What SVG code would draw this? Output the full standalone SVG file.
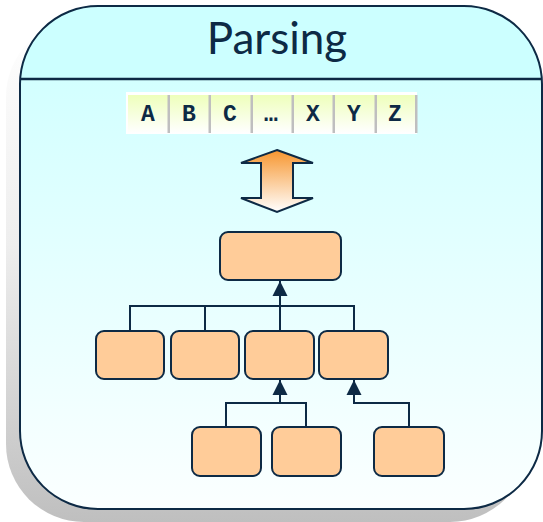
<svg xmlns="http://www.w3.org/2000/svg" width="543" height="522" viewBox="0 0 543 522">
<defs>
<linearGradient id="shadow" x1="0" y1="0" x2="0" y2="1">
<stop offset="0" stop-color="#ffffff"/>
<stop offset="0.45" stop-color="#eeeeee"/>
<stop offset="1" stop-color="#bfbfbf"/>
</linearGradient>
<linearGradient id="body" x1="0" y1="0" x2="0" y2="1">
<stop offset="0" stop-color="#ccffff"/>
<stop offset="1" stop-color="#fbffff"/>
</linearGradient>
<linearGradient id="cell" x1="0" y1="0" x2="0" y2="1">
<stop offset="0" stop-color="#eeffbb"/>
<stop offset="1" stop-color="#ffffff"/>
</linearGradient>
<linearGradient id="arrowfill" x1="0" y1="0" x2="0" y2="1">
<stop offset="0" stop-color="#f7962f"/>
<stop offset="1" stop-color="#ffffff"/>
</linearGradient>
<clipPath id="frameclip"><rect x="20" y="6" width="522" height="503" rx="78" ry="78"/></clipPath>
<marker id="tri" viewBox="0 0 16 16" refX="15" refY="8" markerWidth="16" markerHeight="16" markerUnits="userSpaceOnUse" orient="auto">
<path d="M0,0.5 L15,8 L0,15.5 Z" fill="#0d2a45"/>
</marker>
</defs>
<style>
.node{fill:#ffcc99;stroke:#0d2a45;stroke-width:2}
.conn{fill:none;stroke:#0d2a45;stroke-width:2}
.sep{fill:#bfbfbf}
</style>
<g id="frame">
<rect x="6" y="19" width="522" height="503" rx="78" ry="78" fill="url(#shadow)"/>
<rect x="20" y="6" width="522" height="503" rx="78" ry="78" fill="url(#body)"/>
<rect x="20" y="6" width="522" height="73" fill="#ccffff" clip-path="url(#frameclip)"/>
<rect x="20" y="6" width="522" height="503" rx="78" ry="78" fill="none" stroke="#0d2a45" stroke-width="2"/>
<line x1="20" y1="79" x2="542" y2="79" stroke="#0d2a45" stroke-width="2.5"/>
<text x="277" y="54" font-family="Lato, 'Open Sans', sans-serif" font-size="44" fill="#0d2a45" text-anchor="middle">Parsing</text>
</g>
<g id="tokens">
<rect x="126" y="92" width="291" height="42" fill="#ffffff"/>
<rect x="128" y="95" width="40" height="38" fill="url(#cell)"/>
<rect x="170" y="95" width="39" height="38" fill="url(#cell)"/>
<rect x="211" y="95" width="40" height="38" fill="url(#cell)"/>
<rect x="253" y="95" width="39" height="38" fill="url(#cell)"/>
<rect x="294" y="95" width="39" height="38" fill="url(#cell)"/>
<rect x="335" y="95" width="40" height="38" fill="url(#cell)"/>
<rect x="377" y="95" width="38" height="38" fill="url(#cell)"/>
<rect class="sep" x="167.5" y="95" width="2.5" height="38"/>
<rect class="sep" x="208.5" y="95" width="2.5" height="38"/>
<rect class="sep" x="250.5" y="95" width="2.5" height="38"/>
<rect class="sep" x="291.5" y="95" width="2.5" height="38"/>
<rect class="sep" x="332.5" y="95" width="2.5" height="38"/>
<rect class="sep" x="374.5" y="95" width="2.5" height="38"/>
<rect class="sep" x="415" y="95" width="2.5" height="38"/>
<g font-family="'Liberation Mono', monospace" font-weight="bold" font-size="23" fill="#0d2a45" text-anchor="middle">
<text x="148" y="121">A</text>
<text x="189" y="121">B</text>
<text x="230" y="121">C</text>
<text x="271" y="121">…</text>
<text x="313" y="121">X</text>
<text x="354" y="121">Y</text>
<text x="395" y="121">Z</text>
</g>
</g>
<g id="double-arrow">
<path d="M277,150 L313,163 L293,163 L293,198 L313,198 L277,212 L241,198 L261,198 L261,163 L241,163 Z" fill="url(#arrowfill)" stroke="#0d2a45" stroke-width="2" stroke-linejoin="miter"/>
</g>
<g id="root"><rect class="node" x="220" y="232" width="121" height="48" rx="8"/></g>
<g id="n1"><rect class="node" x="96" y="331" width="68" height="48" rx="8"/></g>
<g id="n2"><rect class="node" x="171" y="331" width="68" height="48" rx="8"/></g>
<g id="n3"><rect class="node" x="245" y="331" width="69" height="48" rx="8"/></g>
<g id="n4"><rect class="node" x="319" y="331" width="69" height="48" rx="8"/></g>
<g id="n5"><rect class="node" x="192" y="427" width="69" height="49" rx="8"/></g>
<g id="n6"><rect class="node" x="272" y="427" width="69" height="49" rx="8"/></g>
<g id="n7"><rect class="node" x="374" y="427" width="70" height="49" rx="8"/></g>
<g id="connectors">
<path class="conn" d="M130,331 V306 H354 V331 M205,306 V331 M280,331 V306"/>
<line class="conn" x1="280" y1="306" x2="280" y2="281" stroke-width="3" marker-end="url(#tri)"/>
<path class="conn" d="M226,427 V403 H306 V427"/>
<line class="conn" x1="280" y1="403" x2="280" y2="380" stroke-width="2.5" marker-end="url(#tri)"/>
<path class="conn" d="M409,427 V403 H354"/>
<line class="conn" x1="354" y1="404" x2="354" y2="380" stroke-width="2.5" marker-end="url(#tri)"/>
</g>
</svg>
